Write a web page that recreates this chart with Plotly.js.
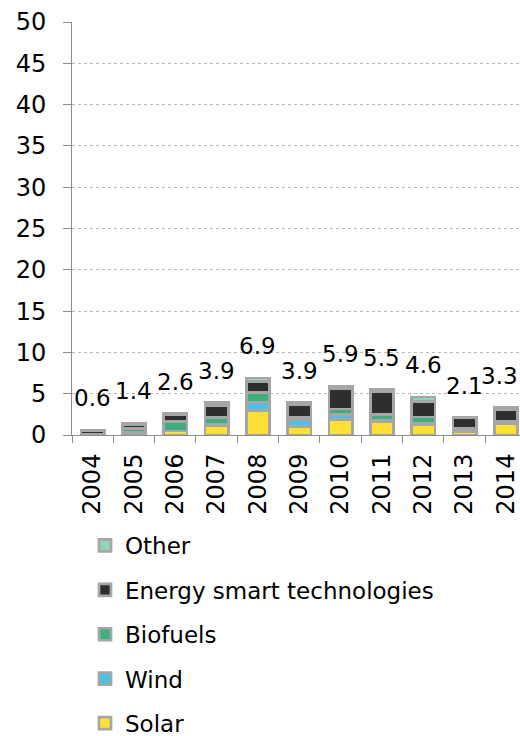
<!DOCTYPE html>
<html>
<head>
<meta charset="utf-8">
<script src="https://cdn.plot.ly/plotly-3.0.1.min.js"></script>
<style>html,body{margin:0;padding:0;background:#fff}#chart{width:520px;height:736px}</style>
</head>
<body>
<div id="chart"></div>
<script>
const years = ['2004','2005','2006','2007','2008','2009','2010','2011','2012','2013','2014'];
const solar    = [0.05, 0.20, 0.50, 1.15, 3.00, 1.00, 1.90, 1.62, 1.25, 0.42, 1.33];
const wind     = [0.00, 0.10, 0.00, 0.15, 0.92, 0.80, 0.60, 0.20, 0.15, 0.10, 0.10];
const biofuels = [0.05, 0.45, 1.12, 0.80, 1.23, 0.35, 0.65, 0.69, 0.77, 0.28, 0.18];
const energySmart = [0.45, 0.50, 0.81, 1.50, 1.33, 1.50, 2.42, 2.74, 1.85, 1.25, 1.50];
const other    = [0.05, 0.15, 0.17, 0.30, 0.42, 0.25, 0.33, 0.25, 0.58, 0.05, 0.19];
const totals   = [0.6, 1.4, 2.6, 3.9, 6.9, 3.9, 5.9, 5.5, 4.6, 2.1, 3.3];
const totalLabels = ['0.6','1.4','2.6','3.9','6.9','3.9','5.9','5.5','4.6','2.1','3.3'];
const yTicks = [0,5,10,15,20,25,30,35,40,45,50];

const FONT = 'DejaVu Sans, Liberation Sans, Arial, sans-serif';
const BORDER = '#a6a6a6';

function barTrace(name, vals, color, rank) {
  return {
    type: 'bar', name: name, x: years, y: vals, legendgroup: name, legendrank: rank,
    marker: {color: color, line: {color: BORDER, width: 2.7}},
    hoverinfo: 'skip'
  };
}

const data = [
  barTrace('Solar', solar, '#ffe135', 5),
  barTrace('Wind', wind, '#45c1ea', 4),
  barTrace('Biofuels', biofuels, '#3dae7c', 3),
  barTrace('Energy smart technologies', energySmart, '#2e2e2e', 2),
  barTrace('Other', other, '#8fd6b8', 1)
];

const annotations = years.map((yr, i) => ({
  x: i, y: totals[i], xref: 'x', yref: 'y',
  text: totalLabels[i], showarrow: false,
  yanchor: 'bottom', xanchor: 'center', yshift: 17,
  xshift: (i === years.length - 1) ? -6 : 0,
  font: {family: FONT, size: 23, color: '#000'}
}));

const layout = {
  width: 520, height: 736,
  margin: {l: 72, r: 0, t: 22, b: 301, autoexpand: false},
  paper_bgcolor: '#fff', plot_bgcolor: '#fff',
  barmode: 'stack', bargap: 0.44,
  showlegend: true,
  font: {family: FONT, color: '#000'},
  xaxis: {
    type: 'category', range: [-0.5, 10.34],
    showline: true, linecolor: '#8c8c8c', linewidth: 1,
    ticks: 'outside', tickson: 'boundaries', ticklen: 7, tickcolor: '#8c8c8c',
    tickangle: -90, tickfont: {family: FONT, size: 24, color: '#000'},
    ticklabelstandoff: 8, automargin: false,
    showgrid: false, zeroline: false, fixedrange: true
  },
  yaxis: {
    range: [0, 50], tickvals: yTicks, ticktext: yTicks.map(String),
    showline: true, linecolor: '#8c8c8c', linewidth: 1,
    ticks: 'outside', ticklen: 8, tickcolor: '#8c8c8c',
    tickfont: {family: FONT, size: 24, color: '#000'},
    ticklabelstandoff: 12, automargin: false,
    showgrid: true, gridcolor: '#b8b8b8', griddash: 'dot', gridwidth: 1,
    zeroline: false, fixedrange: true
  },
  legend: {
    xref: 'container', yref: 'container',
    x: 85/520, y: 1 - 524/736, xanchor: 'left', yanchor: 'top',
    orientation: 'v', traceorder: 'grouped', tracegroupgap: 11.5,
    font: {family: FONT, size: 23, color: '#000'},
    bgcolor: 'rgba(0,0,0,0)', borderwidth: 0
  },
  annotations: annotations
};

Plotly.newPlot('chart', data, layout, {staticPlot: true, displayModeBar: false});
</script>
</body>
</html>
